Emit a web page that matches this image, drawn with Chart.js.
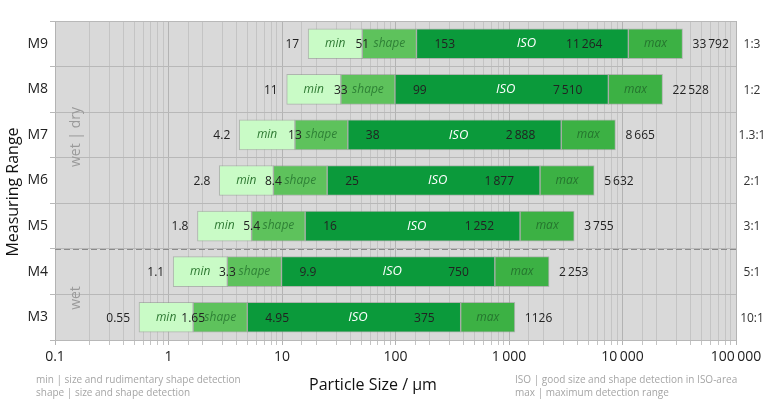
<!DOCTYPE html>
<html>
<head>
<meta charset="utf-8">
<script src="https://cdn.jsdelivr.net/npm/chart.js@4/dist/chart.umd.min.js"></script>
<style>
  html, body { margin: 0; padding: 0; background: #fff; }
  #wrap { width: 768px; height: 410px; position: relative; }
</style>
</head>
<body>
<div id="wrap"><canvas id="rangeChart"></canvas></div>
<script>
// measuring ranges, top to bottom
const ranges = ["M9", "M8", "M7", "M6", "M5", "M4", "M3"];
// segment boundaries in µm
const minStart = [17, 11, 4.2, 2.8, 1.8, 1.1, 0.55];
const shapeStart = [51, 33, 13, 8.4, 5.4, 3.3, 1.65];
const isoStart = [153, 99, 38, 25, 16, 9.9, 4.95];
const maxStart = [11264, 7510, 2888, 1877, 1252, 750, 375];
const maxEnd = [33792, 22528, 8665, 5632, 3755, 2253, 1126];
const maxEndLabels = ["33\u2009792", "22\u2009528", "8\u2009665", "5\u2009632", "3\u2009755", "2\u2009253", "1126"];
const ratios = ["1:3", "1:2", "1.3:1", "2:1", "3:1", "5:1", "10:1"];
const segmentNames = ["min", "shape", "ISO", "max"];
const xTickLabels = [0.1, 1, 10, 100, 1000, 10000, 100000];
const notesLeft = ["min | size and rudimentary shape detection", "shape | size and shape detection"];
const notesRight = ["ISO | good size and shape detection in ISO-area", "max | maximum detection range"];

const FONT = "'Open Sans', 'Noto Sans', sans-serif";
const colors = ["#c9fbc6", "#5ec25c", "#0b9a3b", "#3cb144"];
const nameColors = ["#2f7a33", "#2f8236", "#ffffff", "#25752e"];

function fmt(v) {
    return String(v).replace(/\B(?=(\d{3})+(?!\d))/g, "\u2009");
}

function isPow10(v) {
    const l = Math.log10(v);
    return Math.abs(l - Math.round(l)) < 1e-9;
}

const bounds = [minStart, shapeStart, isoStart, maxStart, maxEnd];

const datasets = segmentNames.map((name, s) => ({
    label: name,
    data: ranges.map((r, i) => [bounds[s][i], bounds[s + 1][i]]),
    backgroundColor: colors[s],
    borderColor: "rgba(140,150,140,0.55)",
    borderWidth: 1,
    borderSkipped: false,
    grouped: false,
    barThickness: 30
}));

const bgPlugin = {
    id: "plotBg",
    beforeDraw(chart) {
        const { ctx, chartArea: a } = chart;
        ctx.save();
        ctx.fillStyle = "#d9d9d9";
        ctx.fillRect(a.left, a.top, a.right - a.left, a.bottom - a.top);
        ctx.restore();
    }
};

const textPlugin = {
    id: "rangeText",
    afterDatasetsDraw(chart) {
        const { ctx, chartArea: a } = chart;
        const xs = chart.scales.x;
        const ys = chart.scales.y;
        const px = v => xs.getPixelForValue(v);

        ctx.save();
        ctx.textBaseline = "middle";

        ranges.forEach((r, i) => {
            const y = ys.getPixelForValue(i);

            ctx.font = "12px " + FONT;
            ctx.fillStyle = "#222";
            ctx.textAlign = "right";
            ctx.fillText(fmt(minStart[i]), px(minStart[i]) - 9, y + 1);

            ctx.textAlign = "center";
            ctx.fillText(fmt(shapeStart[i]), px(shapeStart[i]), y + 1);

            ctx.textAlign = "left";
            ctx.fillText(fmt(isoStart[i]), px(isoStart[i]) + 18, y + 1);

            ctx.textAlign = "right";
            ctx.fillText(fmt(maxStart[i]), px(maxStart[i]) - 26, y + 1);

            ctx.textAlign = "left";
            ctx.fillText(maxEndLabels[i], px(maxEnd[i]) + 10, y + 1);

            // segment names
            ctx.textAlign = "center";
            segmentNames.forEach((name, s) => {
                const x0 = px(bounds[s][i]);
                const x1 = px(bounds[s + 1][i]);
                let cx = (x0 + x1) / 2;
                if (s === 2) cx += 4;
                ctx.font = (s === 2 ? "italic 13px " : "italic 12px ") + FONT;
                ctx.fillStyle = nameColors[s];
                ctx.fillText(name, cx, y);
            });

            // ratio on the right
            ctx.font = "12px " + FONT;
            ctx.fillStyle = "#333";
            ctx.fillText(ratios[i], 752, y + 1);
        });

        // wet / dry separator between M5 and M4
        const sepY = (ys.getPixelForValue(4) + ys.getPixelForValue(5)) / 2;
        ctx.strokeStyle = "#8a8a8a";
        ctx.lineWidth = 1;
        ctx.setLineDash([6, 3]);
        ctx.beginPath();
        ctx.moveTo(a.left, Math.round(sepY) + 0.5);
        ctx.lineTo(a.right + 2, Math.round(sepY) + 0.5);
        ctx.stroke();
        ctx.setLineDash([]);

        // vertical region notes
        ctx.fillStyle = "#9a9a9a";
        ctx.font = "14px " + FONT;
        ctx.textAlign = "center";
        ctx.save();
        ctx.translate(76, 137);
        ctx.rotate(-Math.PI / 2);
        ctx.fillText("wet | dry", 0, 0);
        ctx.restore();
        ctx.save();
        ctx.translate(76, 298);
        ctx.rotate(-Math.PI / 2);
        ctx.fillText("wet", 0, 0);
        ctx.restore();

        // axis titles
        ctx.fillStyle = "#111";
        ctx.font = "16px " + FONT;
        ctx.fillText("Particle Size / \u00b5m", 373, 385);
        ctx.save();
        ctx.translate(13, 192);
        ctx.rotate(-Math.PI / 2);
        ctx.fillText("Measuring Range", 0, 0);
        ctx.restore();

        // footnotes
        ctx.fillStyle = "#a5a5a5";
        ctx.font = "10px " + FONT;
        ctx.textAlign = "left";
        notesLeft.forEach((t, k) => ctx.fillText(t, 36, 380 + k * 13));
        notesRight.forEach((t, k) => ctx.fillText(t, 515, 380 + k * 13));

        ctx.restore();
    }
};

new Chart(document.getElementById("rangeChart"), {
    type: "bar",
    data: { labels: ranges, datasets: datasets },
    plugins: [bgPlugin, textPlugin],
    options: {
        indexAxis: "y",
        responsive: true,
        maintainAspectRatio: false,
        animation: false,
        layout: { padding: { left: 0, top: 21, right: 32, bottom: 0 } },
        plugins: {
            legend: { display: false },
            tooltip: { enabled: false }
        },
        scales: {
            x: {
                type: "logarithmic",
                min: 0.1,
                max: 100000,
                afterFit: s => { s.height = 70; },
                grid: {
                    color: c => (c.tick && isPow10(c.tick.value)) ? "#b3b3b3" : "#c4c4c4",
                    tickLength: 5,
                    drawTicks: true
                },
                border: { display: false },
                ticks: {
                    autoSkip: false,
                    maxRotation: 0,
                    padding: 4,
                    color: "#222",
                    font: { family: FONT, size: 14 },
                    callback: v => (isPow10(v) && xTickLabels.includes(Number(v.toPrecision(6)))) ? fmt(Number(v.toPrecision(6))) : ""
                }
            },
            y: {
                afterFit: s => { s.width = 55; },
                grid: { color: "#b8b8b8", tickLength: 5, offset: true },
                border: { display: false },
                ticks: {
                    padding: 2,
                    color: "#222",
                    font: { family: FONT, size: 14 }
                }
            }
        }
    }
});
</script>
</body>
</html>
